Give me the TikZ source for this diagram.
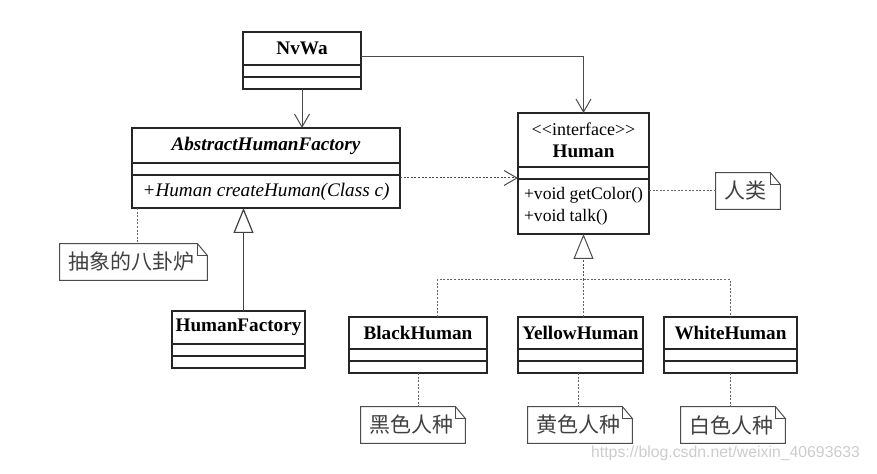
\documentclass[tikz,border=0pt]{standalone}
\usepackage{fontspec}
\setmainfont{Liberation Serif}
\newfontfamily\cjk{Noto Sans CJK SC}
\newfontfamily\wmfont{Liberation Sans}
\usetikzlibrary{arrows.meta, positioning}

\tikzset{
  cls/.style={draw=black!85, line width=0.6pt, rectangle, outer sep=0pt, inner sep=1pt},
  clsname/.style={cls, font=\fontsize{9.6}{11}\selectfont\bfseries},
  clspart/.style={cls, minimum height=6pt},
  assoc/.style={draw=black!70, line width=0.5pt, -{Straight Barb[length=6.5pt, width=7.5pt]}},
  dep/.style={assoc, dash pattern=on 1pt off 0.8pt},
  realize/.style={draw=black!70, line width=0.5pt, dash pattern=on 1pt off 0.8pt, -{Triangle[open, length=12.5pt, width=10pt, fill=white]}},
  inherit/.style={draw=black!75, line width=0.6pt, -{Triangle[open, length=12.5pt, width=10pt, fill=white]}},
  attach/.style={draw=black!60, line width=0.5pt, dash pattern=on 1pt off 0.8pt},
  notebox/.style={draw=black!70, line width=0.5pt},
  note/.style={rectangle, inner xsep=4pt, inner ysep=0pt, minimum height=18pt, align=left, font=\cjk\fontsize{10.5}{12}\selectfont, text=black!75}
}

\newcommand{\notefold}[1]{%
  \draw[notebox] (#1.south west) -- (#1.north west) -- ([xshift=-5pt]#1.north east) -- ([yshift=-6pt]#1.north east) -- (#1.south east) -- cycle;
  \draw[notebox] ([xshift=-5pt]#1.north east) |- ([yshift=-6pt]#1.north east);}

\begin{document}
\begin{tikzpicture}[x=0.5pt, y=-0.5pt]
\useasboundingbox (0,0) rectangle (877,474);

\node[clsname, minimum width=59pt, minimum height=16.5pt, anchor=north west] (NvWa) at (243,32) {NvWa};
\node[clspart, minimum width=59pt, below=0pt of NvWa] (NvWaA) {};
\node[clspart, minimum width=59pt, below=0pt of NvWaA] (NvWaM) {};

\node[clsname, minimum width=134pt, minimum height=17.5pt, anchor=north west, font=\fontsize{9.6}{11}\selectfont\bfseries\itshape] (AHF) at (132,128) {AbstractHumanFactory};
\node[clspart, minimum width=134pt, below=0pt of AHF] (AHFA) {};
\node[cls, minimum width=134pt, minimum height=16.5pt, below=0pt of AHFA, font=\fontsize{9.6}{11}\selectfont\itshape] (AHFM) {+Human createHuman(Class c)};

\node[cls, minimum width=65.5pt, minimum height=27pt, anchor=north west, align=center, font=\fontsize{9}{11}\selectfont] (Human) at (518,113) {<\kern0pt<interface>\kern0pt>\\\fontsize{9.6}{11}\selectfont\bfseries Human};
\node[clspart, minimum width=65.5pt, below=0pt of Human] (HumanA) {};
\node[cls, minimum width=65.5pt, minimum height=27.5pt, below=0pt of HumanA, align=left, font=\fontsize{8.8}{11}\selectfont] (HumanM) {+void getColor()\\+void talk()};

\node[clsname, minimum width=66.5pt, minimum height=16.5pt, anchor=north west] (HF) at (172,311) {HumanFactory};
\node[clspart, minimum width=66.5pt, below=0pt of HF] (HFA) {};
\node[clspart, minimum width=66.5pt, below=0pt of HFA] (HFM) {};

\node[clsname, minimum width=69pt, minimum height=16pt, anchor=north west] (Black) at (349,317) {BlackHuman};
\node[clspart, minimum width=69pt, below=0pt of Black] (BlackA) {};
\node[clspart, minimum width=69pt, below=0pt of BlackA] (BlackM) {};

\node[clsname, minimum width=62.5pt, minimum height=16pt, anchor=north west] (Yellow) at (518,317) {YellowHuman};
\node[clspart, minimum width=62.5pt, below=0pt of Yellow] (YellowA) {};
\node[clspart, minimum width=62.5pt, below=0pt of YellowA] (YellowM) {};

\node[clsname, minimum width=66.5pt, minimum height=16pt, anchor=north west] (White) at (664,317) {WhiteHuman};
\node[clspart, minimum width=66.5pt, below=0pt of White] (WhiteA) {};
\node[clspart, minimum width=66.5pt, below=0pt of WhiteA] (WhiteM) {};

\node[note, text width=65.5pt] (FactoryNote) at (133.5,262) {抽象的八卦炉};
\node[note, text width=24pt] (HumanNote) at (748,191) {人类};
\node[note, text width=44pt] (BlackNote) at (413,425) {黑色人种};
\node[note, text width=44pt] (YellowNote) at (580,425) {黄色人种};
\node[note, text width=44pt] (WhiteNote) at (733,425) {白色人种};
\notefold{FactoryNote}
\notefold{HumanNote}
\notefold{BlackNote}
\notefold{YellowNote}
\notefold{WhiteNote}

\draw[assoc] (NvWaM.south) -- (NvWaM.south |- AHF.north);
\draw[assoc] ([yshift=-4pt]NvWa.east) -| (Human.north);

\coordinate (depstart) at ([yshift=-1.5pt]AHFM.north east);
\draw[dep] (depstart) -- (depstart -| HumanA.west);

\draw[inherit] ([xshift=2.5pt]HF.north) -- ([xshift=2.5pt]HF.north |- AHFM.south);

\coordinate[below=23pt of HumanM.south] (bus);
\draw[realize] (bus) -- (HumanM.south);
\draw[attach] ([xshift=9.5pt]Black.north) |- (bus) -| (White.north);
\draw[attach] (Yellow.north -| bus) -- (bus);

\draw[attach] (HumanM.east |- HumanNote.west) -- (HumanNote.west);
\draw[attach] ([xshift=2.5pt]AHFM.south west) -- ([xshift=2.5pt]AHFM.south west |- FactoryNote.north);
\draw[attach] (BlackM.south) -- (BlackM.south |- BlackNote.north);
\draw[attach] ([xshift=-1pt]YellowM.south) -- ([xshift=-1pt]YellowM.south |- YellowNote.north);
\draw[attach] (WhiteM.south) -- (WhiteM.south |- WhiteNote.north);

\node[font=\wmfont\fontsize{7.9}{9}\selectfont, text=black!20, anchor=east] (mark) at (867,453) {https://blog.csdn.net/weixin\_40693633};

\end{tikzpicture}
\end{document}
